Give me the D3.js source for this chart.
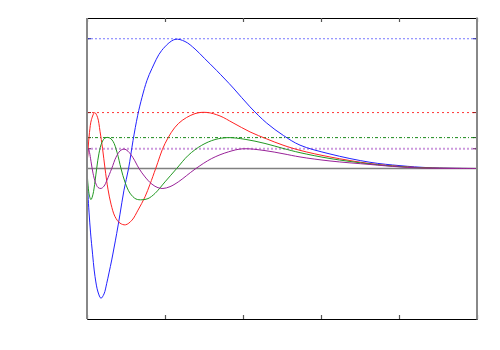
<!DOCTYPE html>
<html>
<head>
<meta charset="utf-8">
<script src="https://cdn.jsdelivr.net/npm/d3@7"></script>
<style>
  body { margin: 0; background: #fff; }
</style>
</head>
<body>
<div class="container"></div>
<script>
// values (x in axis units, y scaled so blue peak = 1)
const blueX = [0, 0.013, 0.026, 0.045, 0.064, 0.103, 0.141, 0.179, 0.218, 0.253, 0.282, 0.317, 0.346, 0.381, 0.423, 0.474, 0.533, 0.590, 0.650, 0.705, 0.769, 0.833, 0.958, 1.128, 1.256, 1.385, 1.504, 1.663, 1.876, 2.090, 2.304, 2.517, 2.731, 3.115, 3.628, 4.013, 4.397, 5];
const blueY = [0, -0.205, -0.336, -0.490, -0.613, -0.834, -0.952, -1.000, -0.967, -0.885, -0.805, -0.705, -0.613, -0.500, -0.352, -0.167, 0, 0.215, 0.410, 0.548, 0.679, 0.771, 0.910, 0.995, 0.979, 0.921, 0.850, 0.755, 0.620, 0.475, 0.350, 0.255, 0.180, 0.112, 0.048, 0.022, 0.006, 0];

const redX = [0, 0.013, 0.032, 0.058, 0.099, 0.135, 0.167, 0.199, 0.231, 0.269, 0.308, 0.359, 0.423, 0.494, 0.577, 0.654, 0.744, 0.808, 0.881, 1.000, 1.171, 1.385, 1.538, 1.705, 1.872, 2.090, 2.304, 2.513, 2.731, 3.115, 3.628, 4.013, 4.397, 5];
const redY = [0, 0.141, 0.279, 0.379, 0.431, 0.395, 0.287, 0.156, 0, -0.159, -0.275, -0.371, -0.421, -0.434, -0.398, -0.321, -0.218, -0.121, 0, 0.192, 0.346, 0.423, 0.432, 0.405, 0.352, 0.282, 0.228, 0.180, 0.140, 0.089, 0.038, 0.016, 0.004, 0];

const greenX = [0, 0.013, 0.032, 0.051, 0.077, 0.103, 0.124, 0.154, 0.192, 0.231, 0.282, 0.333, 0.385, 0.436, 0.487, 0.551, 0.628, 0.705, 0.782, 0.872, 1.000, 1.150, 1.299, 1.471, 1.641, 1.808, 2.026, 2.282, 2.513, 2.731, 3.115, 3.628, 4.013, 4.397, 5];
const greenY = [0, -0.128, -0.213, -0.240, -0.198, -0.098, 0, 0.118, 0.202, 0.235, 0.238, 0.210, 0.125, 0, -0.105, -0.190, -0.235, -0.241, -0.232, -0.192, -0.103, 0, 0.102, 0.179, 0.223, 0.238, 0.225, 0.193, 0.155, 0.122, 0.077, 0.035, 0.014, 0.003, 0];

const purpleX = [0, 0.008, 0.019, 0.032, 0.051, 0.077, 0.109, 0.141, 0.179, 0.218, 0.256, 0.317, 0.372, 0.423, 0.474, 0.526, 0.590, 0.667, 0.744, 0.833, 0.910, 0.974, 1.064, 1.171, 1.385, 1.599, 1.812, 2.000, 2.282, 2.513, 2.731, 3.115, 3.628, 4.013, 4.397, 5];
const purpleY = [0, 0.095, 0.152, 0.125, 0.056, -0.036, -0.109, -0.146, -0.154, -0.136, -0.090, 0, 0.087, 0.135, 0.150, 0.133, 0.083, 0, -0.065, -0.121, -0.148, -0.154, -0.140, -0.103, -0.005, 0.077, 0.128, 0.152, 0.138, 0.114, 0.089, 0.058, 0.031, 0.012, 0.002, 0];

// peak levels marked with dotted lines
const peakLevels = [1.0, 0.431, 0.238, 0.152];
const xTicks = [0, 1, 2, 3, 4, 5];

const width = 500;
const height = 350;
const margin = { top: 18, right: 23, bottom: 31, left: 87 };

let svg = d3.select(".container")
  .append("svg")
  .attr("width", width)
  .attr("height", height);

let x = d3.scaleLinear()
  .domain([0, 5])
  .range([margin.left, width - margin.right]);
let y = d3.scaleLinear()
  .domain([-1.16, 1.16])
  .range([height - margin.bottom, margin.top]);

const series = [
  { xs: blueX, ys: blueY, color: "#2222ff", ref: "#7777ff", dash: "2,2", refWidth: 1.2 },
  { xs: redX, ys: redY, color: "#ff2222", ref: "#ff3333", dash: "2,3", refWidth: 1 },
  { xs: greenX, ys: greenY, color: "#229922", ref: "#1a8a1a", dash: "3,2,1,2", refWidth: 1 },
  { xs: purpleX, ys: purpleY, color: "#992299", ref: "#cc99dd", dash: "2,2", refWidth: 2 }
];

// dotted peak lines
let refs = svg.append("g").attr("class", "refs");
series.forEach((s, i) => {
  refs.append("line")
    .attr("x1", x(0))
    .attr("x2", x(5))
    .attr("y1", y(peakLevels[i]))
    .attr("y2", y(peakLevels[i]))
    .attr("stroke", s.ref)
    .attr("stroke-width", s.refWidth)
    .attr("stroke-dasharray", s.dash);
  // small dark stubs at both ends
  [x(0), x(5) - 4].forEach(px => {
    refs.append("line")
      .attr("x1", px)
      .attr("x2", px + 4)
      .attr("y1", y(peakLevels[i]))
      .attr("y2", y(peakLevels[i]))
      .attr("stroke", d3.color(s.color).darker(1.5))
      .attr("stroke-width", 1);
  });
});

// zero line
svg.append("line")
  .attr("x1", x(0))
  .attr("x2", x(5))
  .attr("y1", y(0))
  .attr("y2", y(0))
  .attr("stroke", "#808080")
  .attr("stroke-width", 1.5);

// curves
let line = d3.line()
  .x(d => x(d[0]))
  .y(d => y(d[1]))
  .curve(d3.curveCatmullRom.alpha(0.5));

let curves = svg.append("g").attr("class", "curves");
series.forEach(s => {
  curves.append("path")
    .datum(s.xs.map((v, i) => [v, s.ys[i]]))
    .attr("d", line)
    .attr("fill", "none")
    .attr("stroke", s.color)
    .attr("stroke-width", 1);
});

// frame: black top/bottom with inward ticks, grey sides
let topAxis = svg.append("g")
  .attr("transform", `translate(0,${y(1.16)})`)
  .call(d3.axisTop(x).tickValues(xTicks).tickSize(-4).tickFormat(""));
let bottomAxis = svg.append("g")
  .attr("transform", `translate(0,${y(-1.16)})`)
  .call(d3.axisBottom(x).tickValues(xTicks).tickSize(-4).tickFormat(""));
[topAxis, bottomAxis].forEach(a => {
  a.select(".domain").attr("stroke", "#000").attr("stroke-width", 1);
  a.selectAll(".tick line").attr("stroke", "#555").attr("stroke-width", 1.2);
});

svg.append("line")
  .attr("x1", x(0))
  .attr("x2", x(0))
  .attr("y1", y(1.16))
  .attr("y2", y(-1.16))
  .attr("stroke", "#888")
  .attr("stroke-width", 2);
svg.append("line")
  .attr("x1", x(5))
  .attr("x2", x(5))
  .attr("y1", y(1.16) - 0.5)
  .attr("y2", y(-1.16) + 0.5)
  .attr("stroke", "#888")
  .attr("stroke-width", 2);
</script>
</body>
</html>
